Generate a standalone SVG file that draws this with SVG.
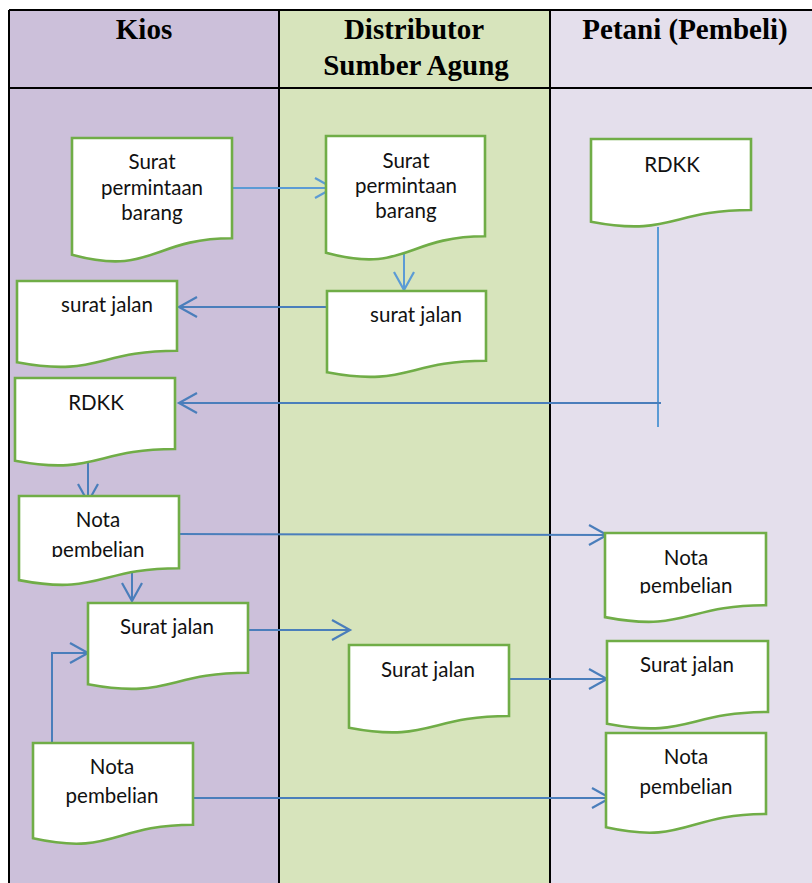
<svg xmlns="http://www.w3.org/2000/svg" width="812" height="883" viewBox="0 0 812 883">
<defs>
<style>
.hdr{font-family:"Liberation Serif","Times New Roman",serif;font-weight:bold;font-size:29px;fill:#000;text-anchor:middle}
.doc{fill:#fff;stroke:#70AD47;stroke-width:2.6;stroke-linejoin:miter}
.lbl{font-family:Lato,"Liberation Sans",sans-serif;font-size:20.5px;fill:#111;text-anchor:middle}
.grid{stroke:#000;stroke-width:2;fill:none}
.cl{fill:none;stroke:#5B9BD5;stroke-width:2}
.cd{fill:none;stroke:#4A7EBB;stroke-width:2}
</style>
<marker id="aL" markerUnits="userSpaceOnUse" markerWidth="24" markerHeight="24" viewBox="-20 -12 22 24" refX="0" refY="0" orient="auto"><path d="M-18,-10 L0,0 L-18,10" fill="none" stroke="#5B9BD5" stroke-width="2.2"/></marker>
<marker id="aD" markerUnits="userSpaceOnUse" markerWidth="24" markerHeight="24" viewBox="-20 -12 22 24" refX="0" refY="0" orient="auto"><path d="M-18,-10 L0,0 L-18,10" fill="none" stroke="#4A7EBB" stroke-width="2.2"/></marker>
<clipPath id="c7"><rect x="0" y="496" width="280" height="61"/></clipPath>
<clipPath id="c8"><rect x="560" y="533" width="252" height="60.5"/></clipPath>
</defs>
<rect width="812" height="883" fill="#fff"/>
<g id="lanes">
<rect x="9" y="10" width="270" height="873" fill="#CCC0DA"/>
<rect x="279" y="10" width="271" height="873" fill="#D7E4BC"/>
<rect x="550" y="10" width="262" height="873" fill="#E4DFEC"/>
<path class="grid" d="M9,10 H812 M9,88 H812 M9,10 V883 M279,10 V883 M550,10 V883"/>
<text class="hdr" x="144" y="39">Kios</text>
<text class="hdr" x="414" y="39">Distributor</text>
<text class="hdr" x="416" y="75">Sumber Agung</text>
<text class="hdr" x="685" y="39">Petani (Pembeli)</text>
</g>
<g id="connectors">
<path class="cl" d="M232,188 H333" marker-end="url(#aL)"/>
<path class="cl" d="M404,253 V290" marker-end="url(#aL)"/>
<path class="cd" d="M327,307 H179" marker-end="url(#aD)"/>
<path class="cl" d="M658,227 V427"/>
<path class="cd" d="M661,403 H179" marker-end="url(#aD)"/>
<path class="cd" d="M88,461 V502" marker-end="url(#aD)"/>
<path class="cd" d="M178,534 L607,535" marker-end="url(#aD)"/>
<path class="cd" d="M132,567 V601" marker-end="url(#aD)"/>
<path class="cd" d="M52,743 V653 H88" marker-end="url(#aD)"/>
<path class="cd" d="M248,630 H350" marker-end="url(#aD)"/>
<path class="cd" d="M509,679 H607" marker-end="url(#aD)"/>
<path class="cd" d="M193,798 H610" marker-end="url(#aD)"/>
</g>
<g id="kios-surat-permintaan">
<path class="doc" d="M72,138 H232 V238.3 C152,238.3 152,276.4 72,254.8 Z"/>
<text class="lbl" x="152" y="169">Surat</text>
<text class="lbl" x="152" y="194.5">permintaan</text>
<text class="lbl" x="152" y="220">barang</text>
</g>
<g id="dist-surat-permintaan">
<path class="doc" d="M326,136 H485 V236.3 C405.5,236.3 405.5,274.4 326,252.8 Z"/>
<text class="lbl" x="406" y="168">Surat</text>
<text class="lbl" x="406" y="193">permintaan</text>
<text class="lbl" x="406" y="218">barang</text>
</g>
<g id="dist-surat-jalan">
<path class="doc" d="M327,291 H486 V360.8 C406.5,360.8 406.5,387.4 327,372.3 Z"/>
<text class="lbl" x="416" y="322">surat jalan</text>
</g>
<g id="kios-surat-jalan">
<path class="doc" d="M17,281 H177 V350.8 C97,350.8 97,377.4 17,362.3 Z"/>
<text class="lbl" x="107" y="312">surat jalan</text>
</g>
<g id="petani-rdkk">
<path class="doc" d="M591,139 H751 V210 C671,210 671,237 591,221.7 Z"/>
<text class="lbl" x="672" y="172">RDKK</text>
</g>
<g id="kios-rdkk">
<path class="doc" d="M15,378 H175 V449 C95,449 95,476 15,460.7 Z"/>
<text class="lbl" x="96" y="410">RDKK</text>
</g>
<g id="kios-nota-1">
<path class="doc" d="M19,496 H179 V568.2 C99,568.2 99,595.7 19,580.1 Z"/>
<g clip-path="url(#c7)">
<text class="lbl" x="98" y="527">Nota</text>
<text class="lbl" x="98" y="556.5">pembelian</text>
</g>
</g>
<g id="petani-nota-1">
<path class="doc" d="M605,533 H766 V605.2 C685.5,605.2 685.5,632.7 605,617.1 Z"/>
<g clip-path="url(#c8)">
<text class="lbl" x="686" y="565">Nota</text>
<text class="lbl" x="686" y="593">pembelian</text>
</g>
</g>
<g id="kios-surat-jalan-2">
<path class="doc" d="M88,603 H248 V672.8 C168,672.8 168,699.4 88,684.3 Z"/>
<text class="lbl" x="167" y="634">Surat jalan</text>
</g>
<g id="kios-nota-2">
<path class="doc" d="M33,743 H193 V824.8 C113,824.8 113,856 33,838.3 Z"/>
<text class="lbl" x="112" y="774">Nota</text>
<text class="lbl" x="112" y="803">pembelian</text>
</g>
<g id="dist-surat-jalan-2">
<path class="doc" d="M349,645 H509 V716 C429,716 429,743 349,727.7 Z"/>
<text class="lbl" x="428" y="677">Surat jalan</text>
</g>
<g id="petani-surat-jalan">
<path class="doc" d="M607,641 H768 V712 C687.5,712 687.5,739 607,723.7 Z"/>
<text class="lbl" x="687" y="672">Surat jalan</text>
</g>
<g id="petani-nota-2">
<path class="doc" d="M606,733 H766 V814 C686,814 686,844.9 606,827.3 Z"/>
<text class="lbl" x="686" y="764">Nota</text>
<text class="lbl" x="686" y="794">pembelian</text>
</g>
</svg>
